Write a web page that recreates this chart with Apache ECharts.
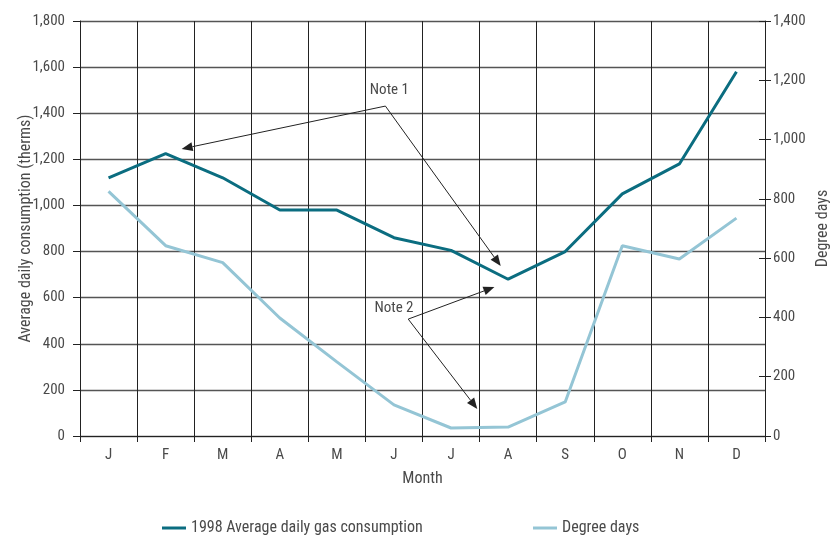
<!DOCTYPE html>
<html><head><meta charset="utf-8">
<script src="https://cdn.jsdelivr.net/npm/echarts@6/dist/echarts.min.js"></script>
<style>html,body{margin:0;padding:0;background:#fff}#c{width:836px;height:536px}</style>
</head><body><div id="c"></div>
<script>
const months = ['J','F','M','A','M','J','J','A','S','O','N','D'];
const gasConsumption = [1120, 1225, 1120, 980, 980, 860, 805, 680, 800, 1050, 1180, 1580];
const degreeDays = [825, 642, 585, 398, 250, 105, 27, 30, 115, 642, 597, 735];
const leftTicks = {min: 0, max: 1800, interval: 200};
const rightTicks = {min: 0, max: 1400, interval: 200};
// annotations in data space: [category index (fractional), left-axis value]
const note1Text = [4.85, 1431];
const note1Arrows = [[1.28, 1245], [6.87, 737]];
const note2Text = [5.25, 507];
const note2Arrows = [[6.76, 646], [6.46, 117]];
const note1Label = [4.92, 1500];
const note2Label = [5.0, 552];

const FONT = "'Roboto Condensed','DejaVu Sans Condensed',sans-serif";
const TXT = '#4a4a4a';
const chart = echarts.init(document.getElementById('c'));
const option = {
  animation: false,
  textStyle: {fontFamily: FONT},
  grid: {left: 80, right: 71, top: 21, bottom: 100, containLabel: false, outerBoundsMode: 'none'},
  legend: [
    {data: ['1998 Average daily gas consumption'], left: 157, top: 515, itemWidth: 24, itemHeight: 3,
     icon: 'rect', textStyle: {fontFamily: FONT, fontSize: 16, color: TXT}},
    {data: ['Degree days'], left: 528, top: 515, itemWidth: 24, itemHeight: 3,
     icon: 'rect', textStyle: {fontFamily: FONT, fontSize: 16, color: TXT}}
  ],
  xAxis: {
    type: 'category', data: months,
    name: 'Month', nameLocation: 'middle', nameGap: 35, nameMoveOverlap: false,
    nameTextStyle: {fontFamily: FONT, fontSize: 16, color: TXT},
    axisLine: {lineStyle: {color: '#222', width: 1}},
    axisTick: {show: true, interval: 0, length: 6, lineStyle: {color: '#222'}},
    axisLabel: {fontFamily: FONT, fontSize: 15, color: TXT, margin: 12},
    splitLine: {show: true, interval: 0, lineStyle: {color: '#222', width: 1}}
  },
  yAxis: [
    {
      type: 'value', min: leftTicks.min, max: leftTicks.max, interval: leftTicks.interval,
      name: 'Average daily consumption (therms)', nameLocation: 'middle', nameGap: 46, nameMoveOverlap: false,
      nameTextStyle: {fontFamily: FONT, fontSize: 16, color: TXT},
      axisLine: {show: true, lineStyle: {color: '#222'}},
      axisTick: {show: true, length: 7, lineStyle: {color: '#222'}},
      axisLabel: {fontFamily: FONT, fontSize: 15, color: TXT, margin: 15,
        formatter: v => v.toLocaleString('en-US')},
      splitLine: {show: true, lineStyle: {color: '#555', width: 1.3}}
    },
    {
      type: 'value', position: 'right', min: rightTicks.min, max: rightTicks.max, interval: rightTicks.interval,
      name: 'Degree days', nameLocation: 'middle', nameGap: 50, nameRotate: 90, nameMoveOverlap: false,
      nameTextStyle: {fontFamily: FONT, fontSize: 16, color: TXT},
      axisLine: {show: true, lineStyle: {color: '#222'}},
      axisTick: {show: true, length: 6, lineStyle: {color: '#222'}},
      axisLabel: {fontFamily: FONT, fontSize: 15, color: TXT, margin: 8,
        formatter: v => v.toLocaleString('en-US')},
      splitLine: {show: false}
    },
    {
      type: 'value', position: 'right', min: rightTicks.min, max: rightTicks.max, interval: rightTicks.interval,
      axisLine: {show: false},
      axisTick: {show: true, inside: true, length: 6, lineStyle: {color: '#222'}},
      axisLabel: {show: false}, splitLine: {show: false}
    }
  ],
  series: [
    {name: '1998 Average daily gas consumption', type: 'line', yAxisIndex: 0, data: gasConsumption,
     symbol: 'none', lineStyle: {color: '#0b6d80', width: 3}, itemStyle: {color: '#0b6d80'}, z: 3},
    {name: 'Degree days', type: 'line', yAxisIndex: 1, data: degreeDays,
     symbol: 'none', lineStyle: {color: '#94c5d5', width: 3}, itemStyle: {color: '#94c5d5'}, z: 2}
  ]
};
chart.setOption(option);

function toPx(p) {
  const i = Math.floor(p[0]), f = p[0] - i;
  const a = chart.convertToPixel({xAxisIndex: 0, yAxisIndex: 0}, [i, p[1]]);
  const b = chart.convertToPixel({xAxisIndex: 0, yAxisIndex: 0}, [i + 1, p[1]]);
  return [a[0] + f * (b[0] - a[0]), a[1]];
}
function arrow(from, to) {
  const s = toPx(from), e = toPx(to);
  const dx = e[0] - s[0], dy = e[1] - s[1], L = Math.hypot(dx, dy);
  const ux = dx / L, uy = dy / L, len = 11, hw = 4.5;
  const bx = e[0] - ux * len, by = e[1] - uy * len;
  return [
    {type: 'line', shape: {x1: s[0], y1: s[1], x2: bx, y2: by}, style: {stroke: '#222', lineWidth: 1}, z: 10},
    {type: 'polygon', shape: {points: [[e[0], e[1]], [bx - uy * hw, by + ux * hw], [bx + uy * hw, by - ux * hw]]},
     style: {fill: '#222'}, z: 10}
  ];
}
function label(txt, p) {
  const q = toPx(p);
  return {type: 'text', x: q[0], y: q[1], style: {text: txt, font: '15px ' + FONT, fill: TXT, align: 'center', verticalAlign: 'middle'}, z: 10};
}
let g = [];
note1Arrows.forEach(t => g = g.concat(arrow(note1Text, t)));
note2Arrows.forEach(t => g = g.concat(arrow(note2Text, t)));
g.push(label('Note 1', note1Label));
g.push(label('Note 2', note2Label));
chart.setOption({graphic: g});
</script></body></html>
